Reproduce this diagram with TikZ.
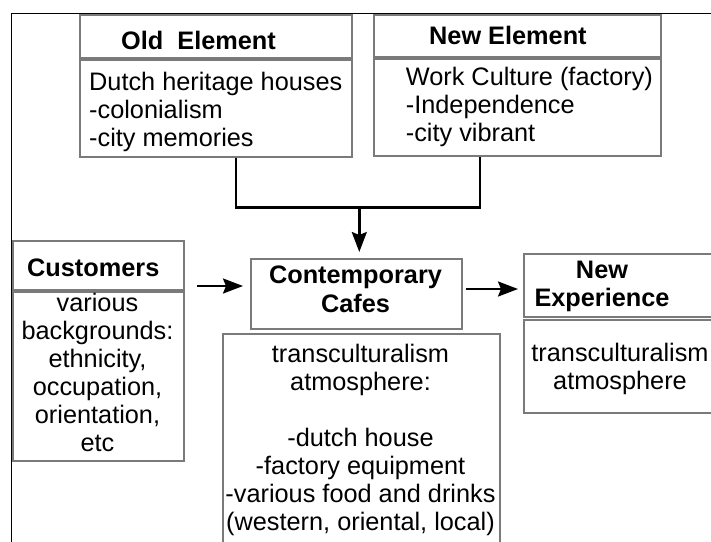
\documentclass[tikz,border=0pt]{standalone}
\usepackage{fontspec}
\setmainfont{Liberation Sans}
\usetikzlibrary{arrows.meta}
\definecolor{boxgray}{HTML}{7A7A7A}
\begin{document}
\begin{tikzpicture}[x=1pt,y=-1pt,
  box/.style={draw=boxgray, line width=1.5pt, inner sep=0pt, anchor=north west},
  txt/.style={inner sep=0pt, font=\fontsize{25.3}{28}\selectfont},
  btxt/.style={inner sep=0pt, font=\fontsize{25.3}{28}\selectfont\bfseries},
  conn/.style={line width=2.4pt, black},
  arr/.style={conn, -{Stealth[length=20pt,width=15pt,inset=3pt]}}]
\useasboundingbox (0,0) rectangle (711,541);
% outer frame (top and left edges)
\draw[line width=1.2pt] (11.7,545) -- (11.7,13.3) -- (715,13.3);
% boxes
\node[box, minimum width=272pt, minimum height=43pt] (oldh) at (79,14) {};
\node[box, minimum width=272pt, minimum height=97pt] (oldb) at (79,59) {};
\node[box, minimum width=287pt, minimum height=42pt] (newh) at (373,14) {};
\node[box, minimum width=287pt, minimum height=97pt] (newb) at (373,58) {};
\node[box, minimum width=171pt, minimum height=49pt] (cush) at (12,240) {};
\node[box, minimum width=171pt, minimum height=169pt] (cusb) at (12,291) {};
\node[box, minimum width=211pt, minimum height=70pt] (conh) at (250,258) {};
\node[box, minimum width=277pt, minimum height=215pt] (conb) at (222,333) {};
\node[box, minimum width=195pt, minimum height=63pt] (neh) at (523,253) {};
\node[box, minimum width=195pt, minimum height=93pt] (neb) at (523,319) {};
% texts
\node[btxt, anchor=base west] (oldht) at (121,49.3) {Old\ \ Element};
\node[btxt, anchor=base west] (newht) at (429,44) {New Element};
\node[btxt, anchor=base west] (cusht) at (27,276) {Customers};
\node[txt, anchor=north west, align=left] (oldbt) at (89,70)
  {\rule{0pt}{20pt}Dutch heritage houses\\-colonialism\\-city memories};
\node[txt, anchor=north west, align=left] (newbt) at (405.7,65)
  {\rule{0pt}{20pt}Work Culture (factory)\\-Independence\\-city vibrant};
\node[txt, anchor=north, align=center] (cusbt) at (97.5,291.7)
  {\rule{0pt}{20pt}various\\backgrounds:\\ethnicity,\\occupation,\\orientation,\\etc};
\node[btxt, anchor=north, align=center] (conht) at (355.5,263)
  {\rule{0pt}{20pt}Contemporary\\[1pt]Cafes};
\node[txt, anchor=north, align=center] (conbt) at (360.5,342)
  {\rule{0pt}{20pt}transculturalism\\atmosphere:\\[28pt]-dutch house\\-factory equipment\\-various food and drinks\\(western, oriental, local)};
\node[btxt, anchor=north, align=center] (neht) at (602,258.5)
  {\rule{0pt}{20pt}New\\Experience};
\node[txt, anchor=north, align=center] (nebt) at (620,341.7)
  {\rule{0pt}{20pt}transculturalism\\atmosphere};
% connectors
\coordinate (jl) at (236,207.5);
\coordinate (jr) at (480,207.5);
\coordinate (jm) at (359.3,207.5);
\coordinate (a1) at (197,286);
\coordinate (a2) at (466,289);
\draw[conn] (oldb.south -| jl) -- (jl) -- (jr) -- (newb.south -| jr);
\draw[arr, shorten >=6pt] (jm) -- (conh.north -| jm);
\draw[arr, shorten >=7pt] (a1) -- (a1 -| conh.west);
\draw[arr, shorten >=5pt] (a2) -- (a2 -| neh.west);
\end{tikzpicture}
\end{document}
